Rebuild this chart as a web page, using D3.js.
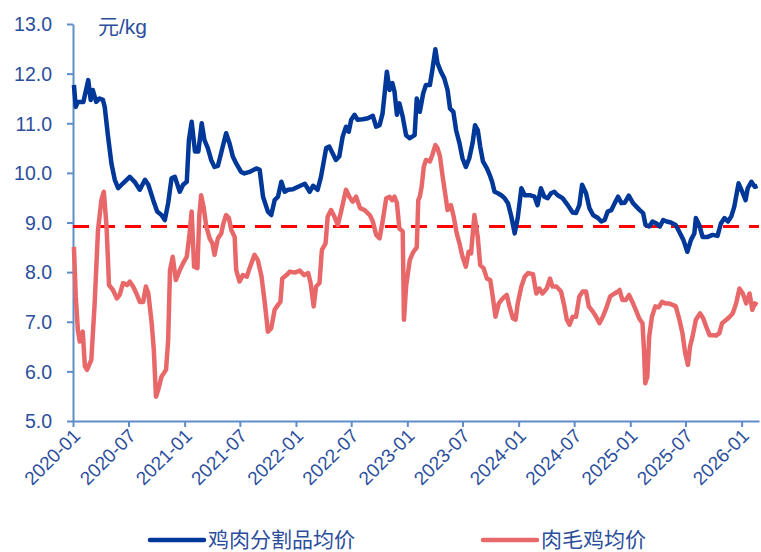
<!DOCTYPE html>
<html>
<head>
<meta charset="utf-8">
<script src="https://cdn.jsdelivr.net/npm/d3@7"></script>
<style>
  body { margin: 0; background: #fff; }
  svg { display: block; font-family: "Liberation Sans", Arial, "Noto Sans CJK SC", sans-serif; }
</style>
</head>
<body>
<svg id="chart" width="761" height="552"></svg>
<script>
// 鸡肉分割品均价 (元/kg)
const cutDates = ['2020-01-04','2020-01-10','2020-01-17','2020-02-04','2020-02-20','2020-02-28','2020-03-06','2020-03-17','2020-03-28','2020-04-08','2020-04-14','2020-04-25','2020-05-06','2020-05-17','2020-05-28','2020-06-13','2020-07-05','2020-07-21','2020-08-07','2020-08-24','2020-09-04','2020-09-20','2020-10-03','2020-10-17','2020-10-28','2020-11-08','2020-11-19','2020-11-30','2020-12-16','2020-12-27','2021-01-08','2021-01-15','2021-01-24','2021-02-04','2021-02-15','2021-02-26','2021-03-07','2021-03-18','2021-03-29','2021-04-09','2021-04-20','2021-05-06','2021-05-17','2021-05-28','2021-06-08','2021-06-19','2021-07-05','2021-07-16','2021-08-02','2021-08-24','2021-09-04','2021-09-15','2021-10-01','2021-10-12','2021-10-23','2021-11-03','2021-11-14','2021-11-25','2021-12-06','2021-12-22','2022-01-08','2022-01-30','2022-02-15','2022-02-26','2022-03-13','2022-03-24','2022-04-10','2022-04-20','2022-05-12','2022-05-23','2022-06-03','2022-06-14','2022-06-23','2022-07-01','2022-07-12','2022-07-22','2022-08-08','2022-08-25','2022-09-10','2022-09-21','2022-10-02','2022-10-12','2022-10-26','2022-11-04','2022-11-13','2022-11-20','2022-11-28','2022-12-06','2022-12-17','2022-12-28','2023-01-09','2023-01-25','2023-02-01','2023-02-11','2023-02-22','2023-03-03','2023-03-16','2023-03-24','2023-04-03','2023-04-10','2023-04-21','2023-05-02','2023-05-13','2023-05-21','2023-06-01','2023-06-10','2023-06-21','2023-07-01','2023-07-12','2023-07-23','2023-08-03','2023-08-11','2023-08-20','2023-08-28','2023-09-06','2023-09-19','2023-09-28','2023-10-06','2023-10-14','2023-10-25','2023-11-05','2023-11-16','2023-11-27','2023-12-08','2023-12-19','2023-12-29','2024-01-10','2024-01-21','2024-02-06','2024-02-22','2024-03-03','2024-03-14','2024-03-25','2024-04-05','2024-04-16','2024-04-27','2024-05-08','2024-05-24','2024-06-10','2024-06-26','2024-07-07','2024-07-18','2024-07-27','2024-08-09','2024-08-20','2024-09-01','2024-09-17','2024-09-28','2024-10-09','2024-10-19','2024-10-31','2024-11-11','2024-11-22','2024-12-03','2024-12-14','2024-12-27','2025-01-10','2025-01-21','2025-02-01','2025-02-12','2025-02-20','2025-03-04','2025-03-15','2025-03-28','2025-04-08','2025-04-19','2025-04-30','2025-05-14','2025-05-30','2025-06-10','2025-06-24','2025-07-07','2025-07-19','2025-07-30','2025-08-04','2025-08-15','2025-08-26','2025-09-12','2025-09-28','2025-10-14','2025-10-25','2025-11-06','2025-11-17','2025-11-28','2025-12-08','2025-12-22','2026-01-05','2026-01-14','2026-01-21','2026-02-02','2026-02-13','2026-02-22']
const cutValues = [11.77,11.33,11.43,11.43,11.87,11.47,11.67,11.43,11.50,11.47,11.33,10.73,10.19,9.86,9.69,9.79,9.92,9.82,9.66,9.86,9.76,9.45,9.22,9.15,9.05,9.39,9.89,9.92,9.62,9.76,9.82,10.66,11.03,10.43,10.43,11.00,10.66,10.50,10.26,10.12,10.14,10.53,10.80,10.60,10.33,10.19,10.02,9.99,10.02,10.09,10.06,9.52,9.22,9.15,9.45,9.52,9.82,9.62,9.66,9.67,9.72,9.78,9.62,9.74,9.66,9.92,10.50,10.53,10.26,10.33,10.73,10.93,10.83,11.07,11.17,11.07,11.08,11.10,11.15,10.93,10.96,11.20,12.04,11.67,11.81,11.64,11.17,11.40,11.13,10.76,10.70,10.76,11.50,11.23,11.60,11.77,11.77,12.07,12.49,12.21,12.04,11.91,11.67,11.30,11.23,10.86,10.60,10.29,10.12,10.29,10.60,10.96,10.86,10.53,10.23,10.09,9.96,9.82,9.62,9.59,9.55,9.49,9.39,9.12,8.78,9.09,9.69,9.55,9.55,9.52,9.35,9.69,9.52,9.49,9.59,9.62,9.55,9.49,9.35,9.20,9.19,9.35,9.76,9.59,9.29,9.15,9.09,9.02,9.05,9.22,9.25,9.39,9.52,9.39,9.40,9.54,9.39,9.32,9.25,9.19,8.95,8.92,9.02,8.98,8.92,9.05,9.02,9.00,8.95,8.82,8.65,8.41,8.65,8.78,9.09,8.95,8.71,8.71,8.75,8.73,8.98,9.09,9.02,9.12,9.32,9.79,9.59,9.45,9.69,9.82,9.72,9.74]

// 肉毛鸡均价 (元/kg)
const broilerDates = ['2020-01-04','2020-01-10','2020-01-17','2020-01-23','2020-02-02','2020-02-09','2020-02-16','2020-03-01','2020-03-12','2020-03-23','2020-04-03','2020-04-11','2020-04-20','2020-04-28','2020-05-11','2020-05-24','2020-06-02','2020-06-13','2020-06-26','2020-07-05','2020-07-16','2020-07-27','2020-08-07','2020-08-18','2020-08-27','2020-09-04','2020-09-15','2020-09-22','2020-09-29','2020-10-06','2020-10-17','2020-11-01','2020-11-08','2020-11-14','2020-11-23','2020-12-03','2020-12-16','2020-12-27','2021-01-08','2021-01-16','2021-01-24','2021-02-01','2021-02-12','2021-02-18','2021-02-24','2021-03-04','2021-03-13','2021-03-24','2021-04-02','2021-04-09','2021-04-20','2021-05-01','2021-05-08','2021-05-17','2021-05-26','2021-06-03','2021-06-14','2021-06-19','2021-06-30','2021-07-11','2021-07-24','2021-08-02','2021-08-18','2021-08-29','2021-09-10','2021-09-21','2021-10-01','2021-10-12','2021-10-23','2021-11-03','2021-11-11','2021-11-17','2021-12-01','2021-12-12','2021-12-28','2022-01-14','2022-01-27','2022-02-10','2022-02-18','2022-02-28','2022-03-08','2022-03-19','2022-03-27','2022-04-08','2022-04-15','2022-04-26','2022-05-07','2022-05-18','2022-05-29','2022-06-14','2022-06-25','2022-07-06','2022-07-17','2022-07-30','2022-08-14','2022-08-31','2022-09-10','2022-09-21','2022-10-02','2022-10-12','2022-10-24','2022-11-04','2022-11-12','2022-11-20','2022-11-28','2022-12-06','2022-12-17','2022-12-21','2022-12-28','2023-01-09','2023-01-20','2023-02-01','2023-02-06','2023-02-11','2023-02-17','2023-02-24','2023-03-03','2023-03-16','2023-03-24','2023-04-03','2023-04-10','2023-04-18','2023-04-27','2023-05-05','2023-05-13','2023-05-24','2023-06-02','2023-06-12','2023-06-21','2023-07-01','2023-07-12','2023-07-21','2023-07-29','2023-08-09','2023-08-20','2023-08-28','2023-09-08','2023-09-19','2023-09-30','2023-10-08','2023-10-17','2023-10-28','2023-11-10','2023-11-23','2023-12-02','2023-12-13','2023-12-22','2023-12-29','2024-01-10','2024-01-21','2024-02-01','2024-02-17','2024-02-28','2024-03-09','2024-03-19','2024-04-02','2024-04-13','2024-04-21','2024-05-04','2024-05-19','2024-05-30','2024-06-07','2024-06-16','2024-06-26','2024-07-07','2024-07-18','2024-07-29','2024-08-09','2024-08-18','2024-09-01','2024-09-11','2024-09-22','2024-10-03','2024-10-14','2024-10-27','2024-11-11','2024-11-22','2024-11-27','2024-12-06','2024-12-17','2024-12-28','2025-01-08','2025-01-19','2025-01-30','2025-02-10','2025-02-15','2025-02-19','2025-02-26','2025-03-04','2025-03-13','2025-03-24','2025-04-04','2025-04-15','2025-04-26','2025-05-07','2025-05-20','2025-05-30','2025-06-10','2025-06-21','2025-06-30','2025-07-09','2025-07-16','2025-07-24','2025-08-04','2025-08-18','2025-08-28','2025-09-07','2025-09-18','2025-09-28','2025-10-09','2025-10-20','2025-10-29','2025-11-12','2025-11-23','2025-12-03','2025-12-14','2025-12-25','2026-01-05','2026-01-16','2026-01-27','2026-02-05','2026-02-13','2026-02-22']
const broilerValues = [8.51,7.51,6.83,6.60,6.80,6.10,6.03,6.23,7.37,8.85,9.45,9.62,8.92,7.74,7.64,7.47,7.54,7.78,7.74,7.81,7.71,7.57,7.40,7.40,7.71,7.57,6.97,6.43,5.49,5.62,5.89,6.03,6.63,8.04,8.31,7.84,8.04,8.18,8.31,8.71,9.22,8.11,8.08,9.12,9.55,9.32,8.92,8.68,8.58,8.35,8.68,8.78,8.98,9.15,9.09,8.85,8.71,8.04,7.81,7.94,7.91,8.08,8.35,8.24,7.91,7.37,6.80,6.87,7.24,7.34,7.40,7.87,7.94,8.01,7.99,8.03,7.94,7.98,7.78,7.31,7.71,7.78,8.45,8.58,9.12,9.25,9.12,8.95,9.22,9.66,9.52,9.42,9.52,9.29,9.25,9.15,9.02,8.75,8.68,9.02,9.49,9.52,9.45,9.52,9.39,8.88,8.82,7.04,7.71,8.24,8.40,8.50,9.45,9.52,9.72,10.12,10.26,10.23,10.36,10.56,10.50,10.33,9.92,9.59,9.25,9.35,9.12,8.78,8.58,8.31,8.11,8.41,8.38,9.15,8.71,8.14,8.08,7.87,7.84,7.51,7.10,7.37,7.47,7.54,7.31,7.07,7.04,7.37,7.71,7.91,7.98,7.96,7.57,7.67,7.57,7.67,7.87,7.71,7.71,7.61,7.31,7.04,6.94,7.10,7.10,7.51,7.61,7.61,7.31,7.20,7.10,6.97,7.10,7.27,7.51,7.57,7.61,7.64,7.44,7.44,7.54,7.40,7.24,7.07,6.97,6.43,5.76,5.89,6.70,7.10,7.31,7.29,7.40,7.37,7.37,7.34,7.31,7.07,6.77,6.37,6.13,6.50,6.70,7.04,7.17,7.07,6.90,6.73,6.73,6.72,6.77,6.97,7.04,7.10,7.17,7.37,7.67,7.57,7.37,7.57,7.24,7.37,7.34]

const refLevel = 8.92
const yTicks = [5, 6, 7, 8, 9, 10, 11, 12, 13]
const seriesNames = ['鸡肉分割品均价', '肉毛鸡均价']
const unitLabel = '元/kg'

const parse = d3.utcParse('%Y-%m-%d')
const cutData = cutDates.map((d, i) => [parse(d), cutValues[i]])
const broilerData = broilerDates.map((d, i) => [parse(d), broilerValues[i]])

const svg = d3.select('#chart')
const axisColor = '#5f8dc8'
const textColor = '#2b4e9c'
const blue = '#00389a'
const red = '#e8686a'

const x = d3
  .scaleUtc()
  .domain([parse('2020-01-01'), parse('2026-02-27')])
  .range([73, 759])
const y = d3
  .scaleLinear()
  .domain([5, 13])
  .range([421, 24])

// y axis
const yAxis = d3
  .axisLeft(y)
  .tickValues(yTicks)
  .tickFormat(d3.format('.1f'))
  .tickSize(6)
  .tickSizeOuter(0)
const gy = svg
  .append('g')
  .attr('transform', `translate(${x.range()[0]},0)`)
  .call(yAxis)
gy.selectAll('path, line').attr('stroke', axisColor).attr('stroke-width', 2)
gy.selectAll('text')
  .attr('fill', textColor)
  .attr('font-size', 19.5)
  .attr('x', -21)
  .attr('dy', '0.35em')

// x axis
const xAxis = d3
  .axisBottom(x)
  .ticks(d3.utcMonth.every(6))
  .tickFormat(d3.utcFormat('%Y-%m'))
  .tickSize(6)
  .tickSizeOuter(0)
const gx = svg
  .append('g')
  .attr('transform', `translate(0,${y.range()[0]})`)
  .call(xAxis)
gx.selectAll('path, line').attr('stroke', axisColor).attr('stroke-width', 2)
gx.selectAll('text')
  .attr('fill', textColor)
  .attr('font-size', 19)
  .attr('text-anchor', 'end')
  .attr('dy', 0)
  .attr('y', 0)
  .attr('transform', 'translate(8,16) rotate(-45)')

// reference line
svg
  .append('line')
  .attr('x1', x.range()[0])
  .attr('x2', x.range()[1])
  .attr('y1', y(refLevel))
  .attr('y2', y(refLevel))
  .attr('stroke', '#ff0000')
  .attr('stroke-width', 3)
  .attr('stroke-dasharray', '16,10')

const line = d3
  .line()
  .x(d => x(d[0]))
  .y(d => y(d[1]))

svg
  .append('path')
  .attr('d', line(broilerData))
  .attr('fill', 'none')
  .attr('stroke', red)
  .attr('stroke-width', 4.5)
  .attr('stroke-linejoin', 'round')

svg
  .append('path')
  .attr('d', line(cutData))
  .attr('fill', 'none')
  .attr('stroke', blue)
  .attr('stroke-width', 4.5)
  .attr('stroke-linejoin', 'round')

// unit
svg
  .append('text')
  .attr('x', 98)
  .attr('y', 34)
  .attr('fill', textColor)
  .attr('font-size', 21)
  .text(unitLabel)

// legend
const legend = [
  { name: seriesNames[0], color: blue, x: 150 },
  { name: seriesNames[1], color: red, x: 483 }
]
const lg = svg
  .selectAll('.legend')
  .data(legend)
  .enter()
  .append('g')
  .attr('transform', d => `translate(${d.x},540)`)
lg.append('line')
  .attr('x1', 0)
  .attr('x2', 54)
  .attr('stroke', d => d.color)
  .attr('stroke-width', 4.5)
  .attr('stroke-linecap', 'round')
lg.append('text')
  .attr('x', 58)
  .attr('dy', '0.34em')
  .attr('fill', textColor)
  .attr('font-size', 21)
  .attr('font-family', '"Noto Sans CJK SC", sans-serif')
  .text(d => d.name)
</script>
</body>
</html>
